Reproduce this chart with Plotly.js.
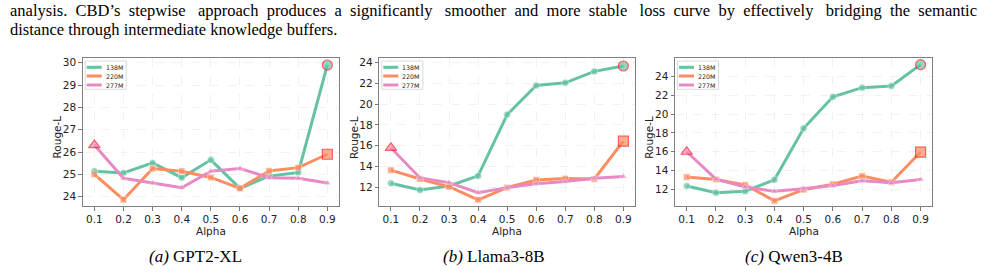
<!DOCTYPE html>
<html>
<head>
<meta charset="utf-8">
<script src="https://cdn.plot.ly/plotly-3.0.1.min.js"></script>
<style>html,body{margin:0;padding:0;background:#fff;}#chart{width:985px;height:272px;}</style>
</head>
<body>
<div id="chart"></div>
<script>
// ---- data ----
const alpha = [0.1, 0.2, 0.3, 0.4, 0.5, 0.6, 0.7, 0.8, 0.9];
const alphaLabels = ['0.1', '0.2', '0.3', '0.4', '0.5', '0.6', '0.7', '0.8', '0.9'];
const seriesNames = ['138M', '220M', '277M'];
const panelNames = ['GPT2-XL', 'Llama3-8B', 'Qwen3-4B'];
const panelLetters = ['(a)', '(b)', '(c)'];
const xTitle = 'Alpha';
const yTitle = 'Rouge-L';

const gpt2_138M = [25.14, 25.06, 25.51, 24.85, 25.65, 24.37, 24.92, 25.08, 29.90];
const gpt2_220M = [25.00, 23.86, 25.26, 25.14, 24.86, 24.37, 25.15, 25.30, 25.90];
const gpt2_277M = [26.31, 24.82, 24.61, 24.40, 25.14, 25.26, 24.85, 24.82, 24.61];

const llama_138M = [12.39, 11.74, 12.13, 13.10, 19.00, 21.80, 22.06, 23.16, 23.68];
const llama_220M = [13.65, 12.80, 12.06, 10.80, 11.97, 12.71, 12.84, 12.80, 16.45];
const llama_277M = [15.80, 12.90, 12.45, 11.48, 11.97, 12.35, 12.55, 12.87, 13.03];

const qwen_138M = [12.36, 11.64, 11.78, 13.01, 18.50, 21.86, 22.83, 23.01, 25.29];
const qwen_220M = [13.30, 13.05, 12.47, 10.77, 11.96, 12.54, 13.41, 12.76, 15.97];
const qwen_277M = [16.00, 13.08, 12.25, 11.78, 12.07, 12.40, 12.90, 12.69, 13.05];

const captionLine1 = 'analysis. CBD\u2019s stepwise approach produces a significantly smoother and more stable loss curve by effectively bridging the semantic';
const captionLine2 = 'distance through intermediate knowledge buffers.';

// ---- styling ----
const colors = ['#66c2a5', '#fc8d62', '#e78ac3'];
const symbols = ['circle', 'square', 'triangle-up'];
const baseSize = [7, 6.5, 6.5];
const hiSize = [10, 10, 10];

const panels = [
  {data: [gpt2_138M, gpt2_220M, gpt2_277M], range: [23.58, 30.2], dtick: 1},
  {data: [llama_138M, llama_220M, llama_277M], range: [10.2, 24.42], dtick: 2},
  {data: [qwen_138M, qwen_220M, qwen_277M], range: [10.22, 25.96], dtick: 2}
];

const W = 985, H = 272;
const frames = [[82.7, 339], [379.3, 635], [675, 932.3]];
const frameTop = 58.3, frameBot = 206;
const yDomain = [1 - frameBot / H, 1 - frameTop / H];
const captionCenters = [195, 494, 794];
const axisFont = {family: 'DejaVu Sans', size: 10.5, color: '#222'};
const serifSize = 16.5;
const serif = {family: 'Liberation Serif', size: serifSize, color: '#000'};
const captionLeft = 8, captionRight = 977;

const traces = [];
const shapes = [];
const annotations = [];
const layout = {
  width: W, height: H,
  margin: {l: 0, r: 0, t: 0, b: 0},
  paper_bgcolor: '#ffffff', plot_bgcolor: '#ffffff',
  showlegend: false,
  font: {family: 'DejaVu Sans', color: '#222'}
};

panels.forEach((p, i) => {
  const s = i === 0 ? '' : String(i + 1);
  p.data.forEach((vals, k) => {
    const maxIdx = vals.indexOf(Math.max(...vals));
    traces.push({
      type: 'scatter', mode: 'lines+markers',
      x: alpha, y: vals, name: seriesNames[k],
      xaxis: 'x' + s, yaxis: 'y' + s,
      line: {color: colors[k], width: 3},
      marker: {
        symbol: symbols[k], color: colors[k],
        size: vals.map((v, j) => j === maxIdx ? hiSize[k] : baseSize[k]),
        line: {
          color: vals.map((v, j) => j === maxIdx ? '#ff1a1a' : 'rgba(255,255,255,0.8)'),
          width: vals.map((v, j) => j === maxIdx ? 1.2 : 0.7)
        }
      }
    });
  });

  const [fl, fr] = frames[i];
  layout['xaxis' + s] = {
    domain: [fl / W, fr / W], anchor: 'y' + s,
    range: [0.06, 0.94],
    tickvals: alpha, ticktext: alphaLabels,
    showline: true, mirror: true, linecolor: '#808080', linewidth: 1,
    ticks: 'outside', ticklen: 3.5, tickcolor: '#555', tickwidth: 0.8,
    showgrid: true, gridcolor: '#ececec', gridwidth: 0.7, griddash: 'dash',
    zeroline: false, automargin: false,
    tickfont: {family: 'DejaVu Sans', size: 10.5, color: '#222'}
  };
  layout['yaxis' + s] = {
    domain: yDomain, anchor: 'x' + s,
    range: p.range, dtick: p.dtick, tick0: 0,
    showline: true, mirror: true, linecolor: '#808080', linewidth: 1,
    ticks: 'outside', ticklen: 3.5, tickcolor: '#555', tickwidth: 0.8,
    showgrid: true, gridcolor: '#ececec', gridwidth: 0.7, griddash: 'dash',
    zeroline: false, automargin: false,
    tickfont: {family: 'DejaVu Sans', size: 10.5, color: '#222'}
  };

  const fw = fr - fl, fh = frameBot - frameTop;
  const fx = px => px / fw, fy = py => 1 - py / fh;
  const xr = 'x' + s + ' domain', yr = 'y' + s + ' domain';

  // axis titles
  annotations.push({xref: xr, yref: yr, x: fx(-25.5), y: fy(79), textangle: -90,
    xanchor: 'center', yanchor: 'middle', showarrow: false, borderpad: 0,
    text: yTitle, font: axisFont});
  annotations.push({xref: xr, yref: yr, x: 0.5, y: fy(172.5),
    xanchor: 'center', yanchor: 'middle', showarrow: false, borderpad: 0,
    text: xTitle, font: axisFont});

  // legend (inside the axes, top-left)
  shapes.push({type: 'rect', xref: xr, yref: yr, layer: 'above',
    x0: fx(2.5), x1: fx(43.5), y0: fy(31), y1: fy(2.7),
    fillcolor: 'rgba(255,255,255,0.85)', line: {color: '#d2d2d2', width: 0.8}});
  const rows = [9, 17.7, 26.7];
  seriesNames.forEach((nm, k) => {
    shapes.push({type: 'line', xref: xr, yref: yr, layer: 'above',
      x0: fx(4), x1: fx(19), y0: fy(rows[k]), y1: fy(rows[k]),
      line: {color: colors[k], width: 3}});
    annotations.push({xref: xr, yref: yr, x: fx(21.8), y: fy(rows[k]),
      xanchor: 'left', yanchor: 'middle', showarrow: false, borderpad: 0, text: nm,
      font: {family: 'DejaVu Sans', size: 6.3, color: '#222'}});
  });

  // sub-caption
  annotations.push({xref: 'paper', yref: 'paper', x: captionCenters[i] / W, y: 1 - 256 / H,
    xanchor: 'center', yanchor: 'middle', showarrow: false,
    text: '<i>' + panelLetters[i] + '</i> ' + panelNames[i],
    font: {family: 'Liberation Serif', size: 17, color: '#000'}});
});

// justified first caption line: spread the word gaps with measured non-breaking spaces
function justify(text, targetWidth) {
  const ctx = document.createElement('canvas').getContext('2d');
  ctx.font = serifSize + 'px "Liberation Serif"';
  const natural = ctx.measureText(text).width;
  const nb = ctx.measureText('\u00a0').width || serifSize * 0.25;
  const words = text.split(' ');
  const gaps = words.length - 1;
  let total = Math.max(0, Math.round((targetWidth - natural) / nb));
  let out = words[0];
  for (let g = 0; g < gaps; g++) {
    const n = Math.round(total * (g + 1) / gaps) - Math.round(total * g / gaps);
    out += ' ' + '\u00a0'.repeat(n) + words[g + 1];
  }
  return out;
}
annotations.push({xref: 'paper', yref: 'paper', x: captionLeft / W, y: 1 - 10.5 / H,
  xanchor: 'left', yanchor: 'middle', showarrow: false,
  text: justify(captionLine1, captionRight - captionLeft - 4), font: serif});
annotations.push({xref: 'paper', yref: 'paper', x: captionLeft / W, y: 1 - 29.5 / H,
  xanchor: 'left', yanchor: 'middle', showarrow: false, text: captionLine2, font: serif});

layout.shapes = shapes;
layout.annotations = annotations;

Plotly.newPlot('chart', traces, layout, {staticPlot: true, displayModeBar: false});
</script>
</body>
</html>
